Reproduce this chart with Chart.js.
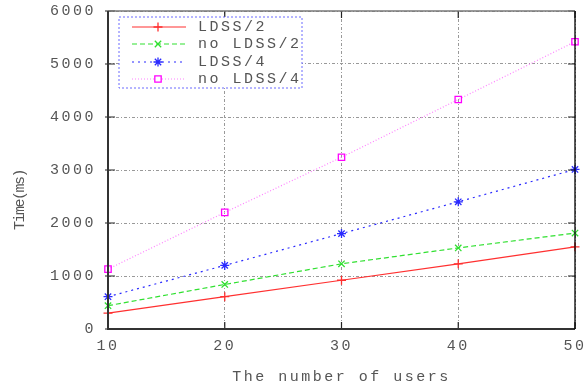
<!DOCTYPE html>
<html>
<head>
<meta charset="utf-8">
<script src="https://cdn.jsdelivr.net/npm/chart.js@4/dist/chart.umd.min.js"></script>
<style>
  html, body { margin: 0; padding: 0; background: #fff; }
  #wrap { width: 585px; height: 386px; }
</style>
</head>
<body>
<div id="wrap"><canvas id="c" width="585" height="386"></canvas></div>
<script>
// number of users on the x axis
const users = [10, 20, 30, 40, 50];

// time in ms
const ldss2 = [300, 610, 920, 1230, 1550];
const noLdss2 = [440, 840, 1230, 1530, 1810];
const ldss4 = [610, 1200, 1800, 2400, 3010];
const noLdss4 = [1130, 2200, 3240, 4330, 5420];

const seriesNames = ["LDSS/2", "no LDSS/2", "LDSS/4", "no LDSS/4"];
const yTicks = [0, 1000, 2000, 3000, 4000, 5000, 6000];

const TEXT = "#555";
const FONT = "Liberation Mono";

function toPoints(values) {
  return values.map((v, i) => ({ x: users[i], y: v }));
}

function makeDataset(label, values, color, dash, pointStyle, lineColor) {
  return {
    label: label,
    data: toPoints(values),
    borderColor: lineColor || color,
    backgroundColor: "rgba(0,0,0,0)",
    pointBorderColor: color,
    pointBackgroundColor: "rgba(0,0,0,0)",
    borderWidth: 1.2,
    borderDash: dash,
    pointStyle: pointStyle,
    pointRadius: 4.5,
    pointBorderWidth: 1.3,
    tension: 0,
    clip: false,
  };
}

const datasets = [
  makeDataset(seriesNames[0], ldss2, "#ff3030", [], "cross"),
  makeDataset(seriesNames[1], noLdss2, "#30e030", [5, 3], "crossRot"),
  makeDataset(seriesNames[2], ldss4, "#2a2aff", [2, 4], "star"),
  makeDataset(seriesNames[3], noLdss4, "#ff00ff", [1, 2], "rect", "#ff80ff"),
];

/**
 * Letter spacing makes the monospace text look like the gnuplot output.
 * The canvas state is reset on resize, so it is set again before each draw.
 */
const spacingPlugin = {
  id: "spacing",
  beforeLayout(chart) {
    chart.ctx.letterSpacing = "2.5px";
  },
  beforeDraw(chart) {
    chart.ctx.letterSpacing = "2.5px";
  },
};

/**
 * Frame, inward ticks, y title and the boxed legend inside the plot.
 */
const framePlugin = {
  id: "frame",
  afterDraw(chart) {
    const ctx = chart.ctx;
    const a = chart.chartArea;
    const xs = chart.scales.x;
    const ys = chart.scales.y;
    ctx.save();

    // ticks pointing inward
    ctx.strokeStyle = "#222";
    ctx.lineWidth = 1.2;
    ctx.setLineDash([]);
    ctx.beginPath();
    yTicks.forEach((t) => {
      const y = ys.getPixelForValue(t);
      ctx.moveTo(a.left - 3, y);
      ctx.lineTo(a.left + 7, y);
      ctx.moveTo(a.right, y);
      ctx.lineTo(a.right - 7, y);
    });
    users.forEach((u) => {
      const x = xs.getPixelForValue(u);
      ctx.moveTo(x, a.bottom);
      ctx.lineTo(x, a.bottom - 7);
      ctx.moveTo(x, a.top);
      ctx.lineTo(x, a.top + 7);
    });
    ctx.stroke();

    // frame
    ctx.strokeStyle = "#777";
    ctx.lineWidth = 1.5;
    ctx.beginPath();
    ctx.moveTo(a.left, a.top);
    ctx.lineTo(a.right, a.top);
    ctx.stroke();
    ctx.strokeStyle = "#333";
    ctx.lineWidth = 2;
    ctx.beginPath();
    ctx.moveTo(a.left, a.top);
    ctx.lineTo(a.left, a.bottom);
    ctx.lineTo(a.right, a.bottom);
    ctx.stroke();
    ctx.strokeStyle = "#000";
    ctx.lineWidth = 1.3;
    ctx.beginPath();
    ctx.moveTo(a.right, a.top);
    ctx.lineTo(a.right, a.bottom);
    ctx.stroke();

    // y axis title
    ctx.fillStyle = TEXT;
    ctx.font = "15px " + FONT;
    ctx.letterSpacing = "-1.5px";
    ctx.translate(20, 200);
    ctx.rotate(-Math.PI / 2);
    ctx.textAlign = "center";
    ctx.textBaseline = "middle";
    ctx.fillText("Time(ms)", 0, 0);
    ctx.restore();

    // legend
    ctx.save();
    const box = { left: 119, top: 17, right: 302, bottom: 88 };
    ctx.fillStyle = "#fff";
    ctx.fillRect(box.left, box.top, box.right - box.left, box.bottom - box.top);
    ctx.strokeStyle = "#6a6aff";
    ctx.lineWidth = 1;
    ctx.setLineDash([2, 2]);
    ctx.strokeRect(box.left, box.top, box.right - box.left, box.bottom - box.top);
    const rowY = [27, 44, 62, 79];
    chart.data.datasets.forEach((ds, i) => {
      const y = rowY[i];
      ctx.strokeStyle = ds.borderColor;
      ctx.lineWidth = ds.borderWidth;
      ctx.setLineDash(ds.borderDash);
      ctx.beginPath();
      ctx.moveTo(132, y);
      ctx.lineTo(186, y);
      ctx.stroke();
      ctx.setLineDash([]);
      ctx.strokeStyle = ds.pointBorderColor;
      ctx.fillStyle = "#fff";
      ctx.lineWidth = ds.pointBorderWidth;
      Chart.helpers.drawPoint(ctx, {
        pointStyle: ds.pointStyle,
        radius: ds.pointRadius,
        borderWidth: ds.pointBorderWidth,
        rotation: 0,
      }, 158, y);
      ctx.fillStyle = TEXT;
      ctx.font = "15px " + FONT;
      ctx.letterSpacing = "2.5px";
      ctx.textAlign = "left";
      ctx.textBaseline = "middle";
      ctx.fillText(ds.label, 198, y);
    });
    ctx.restore();
  },
};

new Chart(document.getElementById("c"), {
  type: "line",
  data: { datasets: datasets },
  plugins: [spacingPlugin, framePlugin],
  options: {
    responsive: false,
    animation: false,
    layout: {
      autoPadding: false,
      padding: { top: 11, right: 10, left: 0, bottom: 0 },
    },
    plugins: {
      legend: { display: false },
      tooltip: { enabled: false },
    },
    scales: {
      x: {
        type: "linear",
        min: 10,
        max: 50,
        afterFit(scale) {
          scale.height = 57;
          scale.paddingLeft = 0;
          scale.paddingRight = 0;
        },
        ticks: {
          stepSize: 10,
          color: TEXT,
          font: { family: FONT, size: 15 },
          padding: 8,
          callback: (v) => String(v),
        },
        grid: { color: "#999", lineWidth: 1, drawTicks: false },
        border: { display: false, dash: [3, 2, 1, 2] },
        title: {
          display: true,
          text: "The number of users",
          color: TEXT,
          font: { family: FONT, size: 15 },
          padding: { top: 3, bottom: 0 },
        },
      },
      y: {
        min: 0,
        max: 6000,
        afterFit(scale) {
          scale.width = 108;
          scale.paddingTop = 0;
          scale.paddingBottom = 0;
        },
        ticks: {
          stepSize: 1000,
          color: TEXT,
          font: { family: FONT, size: 15 },
          padding: 12,
          callback: (v) => String(v),
        },
        grid: { color: "#999", lineWidth: 1, drawTicks: false },
        border: { display: false, dash: [3, 2, 1, 2] },
      },
    },
  },
});
</script>
</body>
</html>
